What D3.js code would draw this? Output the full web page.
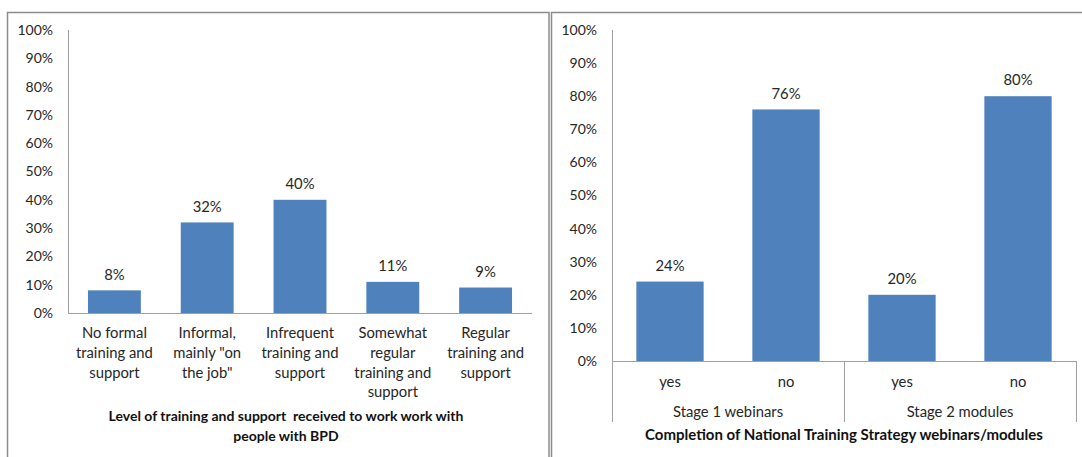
<!DOCTYPE html>
<html>
<head>
<meta charset="utf-8">
<script src="https://cdn.jsdelivr.net/npm/d3@7"></script>
<style>
  html, body { margin: 0; padding: 0; background: #fff; }
  svg { display: block; font-family: "Lato", "Open Sans", sans-serif; }
</style>
</head>
<body>
<svg id="chart" width="1082" height="457"></svg>
<script>
// Percentage tick values shared by both panels
const yTicks = [0, 10, 20, 30, 40, 50, 60, 70, 80, 90, 100];

// Left panel: level of training and support
const trainingLevels = [
  ["No formal", "training and", "support"],
  ["Informal,", "mainly \"on", "the job\""],
  ["Infrequent", "training and", "support"],
  ["Somewhat", "regular", "training and", "support"],
  ["Regular", "training and", "support"]
];
const trainingShares = [8, 32, 40, 11, 9];
const trainingTitle = ["Level of training and support  received to work work with", "people with BPD"];

// Right panel: completion of webinars / modules
const completionGroups = ["Stage 1 webinars", "Stage 2 modules"];
const completionAnswers = ["yes", "no"];
const completionShares = [24, 76, 20, 80];
const completionTitle = "Completion of National Training Strategy webinars/modules";

const BAR = "#4f81bd";
const AXIS = "#a0a0a0";
const FRAME = "#8c8c8c";
const TEXT = "#262626";
const CAT_SIZE = 14.8;

const svg = d3.select("#chart");

// Panel frames
svg.append("rect").attr("x", 7.5).attr("y", 12.5).attr("width", 541.5).attr("height", 460)
  .attr("fill", "none").attr("stroke", FRAME).attr("stroke-width", 1.5);
svg.append("rect").attr("x", 551.5).attr("y", 12.5).attr("width", 560).attr("height", 460)
  .attr("fill", "none").attr("stroke", FRAME).attr("stroke-width", 1.5);

function yAxis(g, y, x0, labelX) {
  g.append("line").attr("x1", x0).attr("x2", x0)
    .attr("y1", y(100)).attr("y2", y(0))
    .attr("stroke", AXIS).attr("stroke-width", 1);
  g.selectAll("text.ytick").data(yTicks).join("text")
    .attr("class", "ytick")
    .attr("x", labelX).attr("y", d => y(d))
    .attr("dy", "0.35em").attr("text-anchor", "end")
    .attr("font-size", 14).attr("fill", TEXT)
    .text(d => d + "%");
}

// ---------- Left chart ----------
{
  const g = svg.append("g");
  const y = d3.scaleLinear().domain([0, 100]).range([313, 30]);
  const x = d3.scaleBand().domain(d3.range(trainingShares.length))
    .range([68, 532]).paddingInner(0.43).paddingOuter(0.215);

  yAxis(g, y, 68.5, 53);

  g.selectAll("rect.bar").data(trainingShares).join("rect")
    .attr("class", "bar")
    .attr("x", (d, i) => x(i)).attr("width", x.bandwidth())
    .attr("y", d => y(d)).attr("height", d => y(0) - y(d))
    .attr("fill", BAR);

  g.append("line").attr("x1", 68).attr("x2", 532)
    .attr("y1", 313.5).attr("y2", 313.5)
    .attr("stroke", AXIS).attr("stroke-width", 1);

  g.selectAll("text.val").data(trainingShares).join("text")
    .attr("class", "val")
    .attr("x", (d, i) => x(i) + x.bandwidth() / 2)
    .attr("y", d => y(d) - 16).attr("dy", "0.35em")
    .attr("text-anchor", "middle").attr("font-size", CAT_SIZE).attr("fill", TEXT)
    .text(d => d + "%");

  trainingLevels.forEach((lines, i) => {
    const t = g.append("text")
      .attr("text-anchor", "middle").attr("font-size", CAT_SIZE).attr("fill", TEXT);
    lines.forEach((ln, k) => {
      t.append("tspan")
        .attr("x", x(i) + x.bandwidth() / 2)
        .attr("y", 333 + k * 19.7).attr("dy", "0.35em")
        .text(ln);
    });
  });

  const tt = g.append("text").attr("text-anchor", "middle")
    .attr("font-size", 14).attr("font-weight", "bold").attr("fill", "#111");
  trainingTitle.forEach((ln, k) => {
    tt.append("tspan").attr("x", 286).attr("y", 416 + k * 20)
      .attr("dy", "0.35em").attr("xml:space", "preserve").text(ln);
  });
}

// ---------- Right chart ----------
{
  const g = svg.append("g");
  const y = d3.scaleLinear().domain([0, 100]).range([361, 30]);
  const cats = [];
  completionGroups.forEach(gr => completionAnswers.forEach(a => cats.push(gr + "|" + a)));
  const x = d3.scaleBand().domain(cats)
    .range([612, 1076]).paddingInner(0.42).paddingOuter(0.21);
  const step = x.step();

  yAxis(g, y, 612.5, 597);

  g.selectAll("rect.bar").data(completionShares).join("rect")
    .attr("class", "bar")
    .attr("x", (d, i) => x(cats[i])).attr("width", x.bandwidth())
    .attr("y", d => y(d)).attr("height", d => y(0) - y(d))
    .attr("fill", BAR);

  g.append("line").attr("x1", 612).attr("x2", 1076)
    .attr("y1", 361.5).attr("y2", 361.5)
    .attr("stroke", AXIS).attr("stroke-width", 1);

  // Group separators under the axis
  const seps = [0, 2, 4].map(k => 612 + k * step);
  g.selectAll("line.sep").data(seps).join("line")
    .attr("class", "sep")
    .attr("x1", d => Math.round(d) + 0.5).attr("x2", d => Math.round(d) + 0.5)
    .attr("y1", 361).attr("y2", 422)
    .attr("stroke", AXIS).attr("stroke-width", 1);

  g.selectAll("text.val").data(completionShares).join("text")
    .attr("class", "val")
    .attr("x", (d, i) => x(cats[i]) + x.bandwidth() / 2)
    .attr("y", d => y(d) - 16).attr("dy", "0.35em")
    .attr("text-anchor", "middle").attr("font-size", CAT_SIZE).attr("fill", TEXT)
    .text(d => d + "%");

  g.selectAll("text.ans").data(cats).join("text")
    .attr("class", "ans")
    .attr("x", d => x(d) + x.bandwidth() / 2)
    .attr("y", 382).attr("dy", "0.35em")
    .attr("text-anchor", "middle").attr("font-size", CAT_SIZE).attr("fill", TEXT)
    .text(d => d.split("|")[1]);

  g.selectAll("text.grp").data(completionGroups).join("text")
    .attr("class", "grp")
    .attr("x", (d, i) => 612 + (i * 2 + 1) * step)
    .attr("y", 412).attr("dy", "0.35em")
    .attr("text-anchor", "middle").attr("font-size", CAT_SIZE).attr("fill", TEXT)
    .text(d => d);

  g.append("text").attr("x", 844).attr("y", 435).attr("dy", "0.35em")
    .attr("text-anchor", "middle").attr("font-size", 15)
    .attr("font-weight", "bold").attr("fill", "#111")
    .text(completionTitle);
}
</script>
</body>
</html>
